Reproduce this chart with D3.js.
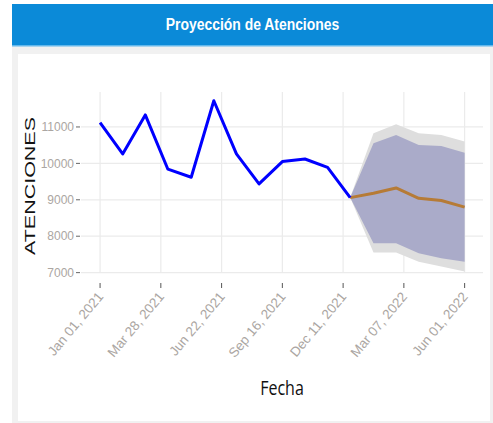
<!DOCTYPE html>
<html>
<head>
<meta charset="utf-8">
<script src="https://cdn.jsdelivr.net/npm/d3@7"></script>
<style>
  body { margin: 0; background: #fff; }
  svg { display: block; }
</style>
</head>
<body>
<div id="wrapper"></div>
<script>
// Proyeccion de atenciones: history + forecast with 80/95 bands

const histDates = ["2021-01-01", "2021-02-02", "2021-03-06", "2021-04-07", "2021-05-10", "2021-06-11",
  "2021-07-13", "2021-08-14", "2021-09-16", "2021-10-18", "2021-11-19", "2021-12-21"]
const histValues = [11120, 10260, 11330, 9840, 9620, 11720, 10260, 9435, 10050, 10120, 9890, 9060]

const fcDates = ["2021-12-21", "2022-01-23", "2022-02-24", "2022-03-28", "2022-04-29", "2022-06-01"]
const fcValues = [9060, 9180, 9325, 9040, 8980, 8800]
const lo80 = [9060, 7810, 7810, 7530, 7395, 7300]
const hi80 = [9060, 10550, 10780, 10505, 10480, 10295]
const lo95 = [9060, 7550, 7550, 7300, 7165, 7030]
const hi95 = [9060, 10830, 11075, 10830, 10780, 10600]

const xTicks = ["2021-01-01", "2021-03-28", "2021-06-22", "2021-09-16", "2021-12-11", "2022-03-07", "2022-06-01"]
const yTicks = [7000, 8000, 9000, 10000, 11000]

const parse = d3.timeParse("%Y-%m-%d")
const fmt = d3.timeFormat("%b %d, %Y")

const width = 493
const height = 423

const dims = {
  left: 81,
  right: 483,
  top: 92,
  bottom: 277
}

const svg = d3.select("#wrapper")
  .append("svg")
  .attr("width", width)
  .attr("height", height)

// card background
svg.append("rect")
  .attr("x", 12).attr("y", 46)
  .attr("width", width - 12).attr("height", height - 46)
  .attr("fill", "#f1f1f1")
svg.append("rect")
  .attr("x", 18).attr("y", 54)
  .attr("width", 472).attr("height", 367)
  .attr("fill", "#ffffff")

// header
svg.append("rect")
  .attr("x", 12).attr("y", 4)
  .attr("width", width - 12).attr("height", 42)
  .attr("fill", "#0b8ad8")
svg.append("rect")
  .attr("x", 12).attr("y", 45)
  .attr("width", width - 12).attr("height", 1.5)
  .attr("fill", "#62b8ec")
svg.append("text")
  .attr("transform", `translate(${(12 + width) / 2}, 30) scale(0.87, 1)`)
  .attr("text-anchor", "middle")
  .attr("fill", "#ffffff")
  .style("font-family", "'Liberation Sans', Arial, sans-serif")
  .style("font-weight", "bold")
  .style("font-size", "16px")
  .text("Proyección de Atenciones")

// scales
const xScale = d3.scaleTime()
  .domain([parse("2020-12-05"), parse("2022-06-27")])
  .range([dims.left, dims.right])

const yScale = d3.scaleLinear()
  .domain([6880, 11960])
  .range([dims.bottom, dims.top])

// grid
const grid = svg.append("g")
grid.selectAll(".hgrid")
  .data(yTicks)
  .join("line")
  .attr("x1", dims.left).attr("x2", dims.right)
  .attr("y1", d => yScale(d)).attr("y2", d => yScale(d))
  .attr("stroke", "#ebebeb")
  .attr("stroke-width", 1.2)
grid.selectAll(".vgrid")
  .data(xTicks)
  .join("line")
  .attr("x1", d => xScale(parse(d))).attr("x2", d => xScale(parse(d)))
  .attr("y1", dims.top).attr("y2", dims.bottom - 4)
  .attr("stroke", "#ebebeb")
  .attr("stroke-width", 1.2)

// bands
const fc = fcDates.map((d, i) => ({
  date: parse(d), value: fcValues[i],
  lo80: lo80[i], hi80: hi80[i], lo95: lo95[i], hi95: hi95[i]
}))

const area95 = d3.area()
  .x(d => xScale(d.date))
  .y0(d => yScale(d.lo95))
  .y1(d => yScale(d.hi95))
const area80 = d3.area()
  .x(d => xScale(d.date))
  .y0(d => yScale(d.lo80))
  .y1(d => yScale(d.hi80))

svg.append("path").datum(fc).attr("d", area95).attr("fill", "#dedede")
svg.append("path").datum(fc).attr("d", area80).attr("fill", "#aaabc9")

// lines
const hist = histDates.map((d, i) => ({ date: parse(d), value: histValues[i] }))
const line = d3.line()
  .x(d => xScale(d.date))
  .y(d => yScale(d.value))

svg.append("path").datum(fc)
  .attr("d", line)
  .attr("fill", "none")
  .attr("stroke", "#b67b36")
  .attr("stroke-width", 3)
  .attr("stroke-linejoin", "round")

svg.append("path").datum(hist)
  .attr("d", line)
  .attr("fill", "none")
  .attr("stroke", "#0000ff")
  .attr("stroke-width", 3)
  .attr("stroke-linejoin", "round")

// y axis
const yAxis = svg.append("g")
yAxis.selectAll("line")
  .data(yTicks)
  .join("line")
  .attr("x1", dims.left - 5).attr("x2", dims.left - 1)
  .attr("y1", d => yScale(d)).attr("y2", d => yScale(d))
  .attr("stroke", "#666")
yAxis.selectAll("text")
  .data(yTicks)
  .join("text")
  .attr("x", dims.left - 7)
  .attr("y", d => yScale(d))
  .attr("dy", "0.35em")
  .attr("text-anchor", "end")
  .attr("fill", "#aba6a2")
  .style("font-family", "'Liberation Sans', Arial, sans-serif")
  .style("font-size", "12px")
  .text(d => d)

// x axis
const xAxis = svg.append("g")
xAxis.selectAll("line")
  .data(xTicks)
  .join("line")
  .attr("x1", d => xScale(parse(d))).attr("x2", d => xScale(parse(d)))
  .attr("y1", 283).attr("y2", 288)
  .attr("stroke", "#555")
xAxis.selectAll("text")
  .data(xTicks)
  .join("text")
  .attr("transform", d => `translate(${xScale(parse(d)) + 4}, 297) rotate(-50)`)
  .attr("text-anchor", "end")
  .attr("fill", "#aba6a2")
  .style("font-family", "'Liberation Sans', Arial, sans-serif")
  .style("font-size", "13.5px")
  .text(d => fmt(parse(d)))

// axis titles
svg.append("text")
  .attr("transform", `translate(282, 395) scale(0.8, 1)`)
  .attr("text-anchor", "middle")
  .attr("fill", "#111")
  .style("font-family", "'Open Sans', sans-serif")
  .style("font-size", "20px")
  .text("Fecha")

svg.append("text")
  .attr("transform", `translate(35, 186) rotate(-90)`)
  .attr("text-anchor", "middle")
  .attr("textLength", 138)
  .attr("lengthAdjust", "spacingAndGlyphs")
  .attr("fill", "#111")
  .style("font-family", "'Liberation Sans', Arial, sans-serif")
  .style("font-size", "14px")
  .text("ATENCIONES")
</script>
</body>
</html>
